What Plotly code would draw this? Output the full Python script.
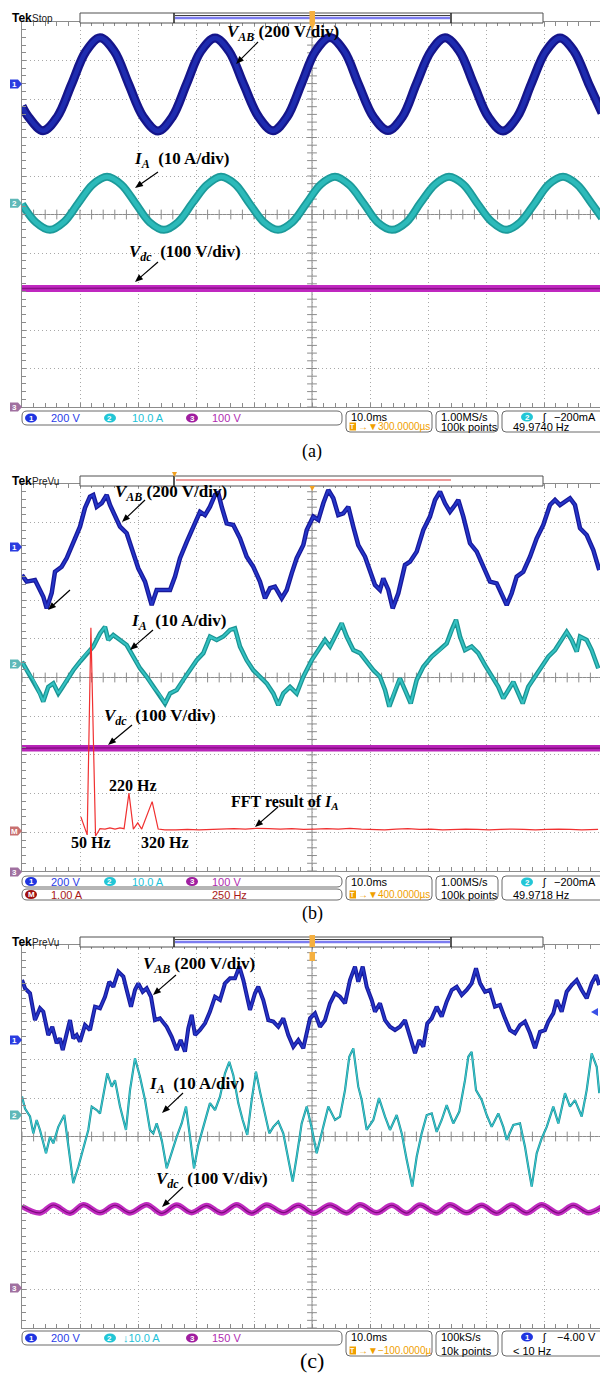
import math
import numpy as np
import plotly.graph_objects as go

W, H = 600, 1374

# ------------------------------------------------------------------ data
# Panel (a)  time in ms, V_AB in V (200 V/div), I_A in A (10 A/div), Vdc in V (100 V/div)
A_VAB_T = [0, 1.14, 3.62, 6.10, 8.54, 11.0, 13.45, 15.9, 18.37, 20.9, 23.45, 25.9, 28.37, 30.8, 33.28, 35.7,
           38.2, 40.8, 43.28, 45.7, 48.2, 50.6, 53.10, 55.6, 58.0, 60.6, 63.10, 65.6, 68.0, 70.5, 72.93, 75.4,
           77.9, 80.4, 82.93, 85.4, 87.8, 90.3, 92.76, 95.2, 97.7, 100]
A_VAB_V = [-115, -172, -243, -170, -2, 168, 240, 171, 1, -170, -244, -172, 0, 169, 239, 170,
           -1, -171, -243, -171, 2, 170, 241, 169, 0, -172, -242, -170, 1, 170, 240, 171,
           -2, -171, -244, -170, 0, 169, 239, 170, 1, -150]
A_IA_T = [0, 2.37, 4.83, 7.29, 9.74, 12.2, 14.66, 17.1, 19.57, 22.0, 24.48, 26.9, 29.4, 31.9, 34.31, 36.8,
          39.2, 41.7, 44.14, 46.6, 49.05, 51.5, 53.97, 56.4, 58.9, 61.3, 63.79, 66.3, 68.7, 71.2, 73.62, 76.1,
          78.5, 81.0, 83.45, 85.9, 88.4, 90.8, 93.28, 95.7, 98.2, 100]
A_IA_V = [-0.2, -4.9, -6.9, -4.8, 0.1, 4.9, 6.9, 4.9, 0, -4.9, -6.9, -4.9, 0.1, 4.8, 6.9, 4.9,
          0, -4.9, -6.9, -4.9, 0, 4.9, 6.9, 4.8, 0, -4.9, -6.9, -4.9, 0.1, 4.9, 6.9, 4.9,
          0, -4.8, -6.9, -4.9, 0, 4.9, 6.9, 4.9, 0, -3.8]
A_VDC_T = [0, 25, 50, 75, 100]
A_VDC_V = [308, 309, 308, 307, 308]

# Panel (b)
B_VAB_T = [0, 0.81, 2.24, 2.81, 3.67, 4.26, 5.12, 5.69, 6.84, 7.71, 8.84, 10.0, 10.86, 11.72, 12.29, 12.88,
           13.74, 14.60, 15.17, 16.03, 16.90, 18.05, 19.19, 20.05, 21.21, 22.36, 23.22, 24.36, 25.52, 26.38,
           27.24, 28.40, 29.53, 30.69, 31.55, 32.41, 33.28, 33.84, 34.43, 35.29, 36.43, 37.59, 38.74, 39.88,
           41.03, 41.90, 42.76, 43.62, 44.78, 45.64, 46.50, 47.36, 48.50, 49.09, 50.22, 51.09, 51.95, 52.81,
           53.67, 54.53, 55.40, 56.26, 57.12, 57.98, 59.14, 60.0, 60.86, 61.72, 62.29, 63.16, 63.91, 64.88,
           66.03, 66.90, 68.05, 69.19, 70.34, 71.21, 72.07, 72.93, 73.79, 74.66, 75.22, 76.09, 77.24, 78.40,
           79.53, 80.69, 81.84, 82.71, 83.57, 84.43, 85.29, 86.43, 87.59, 88.74, 89.88, 91.03, 91.90, 92.76,
           93.62, 94.48, 95.34, 96.21, 97.36, 98.50, 99.53]
B_VAB_V = [-145, -179, -171, -205, -257, -317, -238, -128, -102, -57, 27, 105, 202, 260, 269, 208,
           227, 269, 217, 157, 105, 71, -33, -110, -179, -300, -222, -222, -222, -153,
           -58, 27, 105, 182, 165, 208, 269, 278, 208, 122, 114, 45, -50, -102,
           -179, -265, -213, -205, -265, -222, -136, -58, 10, 88, 157, 140, 226, 295,
           252, 165, 174, 208, 105, 10, -50, -119, -196, -222, -162, -222, -317, -239,
           -93, -76, -24, 88, 157, 243, 286, 226, 182, 217, 243, 157, 19, -24,
           -102, -179, -188, -239, -300, -239, -153, -128, -50, 45, 114, 217, 243, 217,
           234, 252, 217, 97, 62, -16, -119]
B_IA_T = [0, 0.81, 1.95, 3.10, 3.67, 4.53, 5.40, 6.26, 6.84, 7.71, 8.84, 10.0, 11.16, 12.29, 13.45, 14.31,
          14.88, 15.74, 16.90, 18.05, 19.19, 20.34, 21.50, 22.64, 23.79, 24.66, 25.52, 26.67, 27.81, 28.97,
          30.12, 31.26, 32.41, 33.57, 34.71, 35.86, 36.72, 37.59, 38.74, 39.88, 41.03, 42.19, 43.33, 44.19,
          45.05, 46.21, 47.36, 48.50, 49.95, 51.09, 52.24, 53.10, 53.97, 55.12, 55.98, 57.12, 58.28, 59.43,
          60.57, 61.72, 62.59, 63.33, 64.31, 65.17, 66.03, 67.02, 68.05, 69.19, 70.64, 72.07, 73.22, 74.09,
          74.83, 75.52, 76.38, 77.53, 78.67, 79.83, 80.98, 82.12, 82.98, 83.84, 84.71, 85.57, 86.33, 87.29,
          88.45, 89.60, 90.74, 91.90, 93.05, 93.91, 94.78, 95.64, 96.21, 97.36, 98.22, 99.36]
B_IA_V = [0.6, -1.6, -4.1, -7.6, -9.7, -5.9, -5.0, -7.6, -6.3, -4.1, -1.6, 0.6, 2.8, 4.5, 7.9, 9.6,
          6.2, 7.5, 6.2, 4.9, 1.9, -1.1, -3.3, -5.9, -8.0, -10.2, -7.6, -6.7, -4.1, -1.6,
          1.0, 2.8, 7.1, 6.2, 7.1, 8.8, 9.2, 4.5, 1.0, -1.6, -3.3, -5.0, -7.6, -10.6,
          -7.6, -5.9, -7.6, -3.3, 1.0, 3.6, 6.2, 4.5, 7.1, 10.5, 7.1, 3.6, 2.8, 0.6,
          -1.6, -3.3, -6.7, -11.0, -6.7, -3.7, -6.7, -10.2, -4.1, -0.7, 1.9, 3.6, 5.3, 8.8,
          11.4, 7.1, 3.6, 4.5, 2.8, -0.3, -3.3, -5.9, -8.9, -6.7, -4.6, -7.6, -10.2, -5.9,
          -3.3, -0.7, 1.9, 3.6, 6.2, 8.3, 6.2, 3.2, 7.1, 6.2, 3.6, -1.1]
B_VDC_T = [0, 25, 50, 75, 100]
B_VDC_V = [320, 321, 320, 319, 320]
# FFT of I_A (math channel M: 1.00 A/div, 250 Hz/div)
B_FFT_F = [11, 24, 38, 54, 74, 82, 93, 115, 136, 158, 179, 197, 218, 237, 256, 273, 318, 344, 373,
           420, 470, 520, 570, 620, 670, 720, 770, 820, 870, 920, 970, 1020, 1070, 1120, 1170, 1220,
           1270, 1320, 1370, 1420, 1470, 1520, 1570, 1620, 1670, 1720, 1770, 1820, 1870, 1920, 1970,
           2020, 2070, 2120, 2170, 2240]
B_FFT_A = [0.36, 0.13, -0.10, 5.25, -0.13, -0.05, 0.06, 0.05, 0.08, 0.05, 0.08, 0.06, 0.98, 0.05, 0.21,
           0.05, 0.76, 0.05, 0.03, 0.03, 0.04, 0.03, 0.04, 0.05, 0.06, 0.05, 0.07, 0.06, 0.05, 0.06,
           0.04, 0.05, 0.06, 0.05, 0.07, 0.05, 0.04, 0.03, 0.05, 0.06, 0.04, 0.05, 0.03, 0.04, 0.05,
           0.04, 0.03, 0.04, 0.05, 0.04, 0.03, 0.04, 0.05, 0.04, 0.03, 0.04]

# Panel (c)
C_VAB_T = [0, 0.52, 1.38, 2.24, 3.10, 3.67, 4.53, 5.22, 5.98, 6.55, 7.02, 7.71, 8.28, 8.84, 9.43, 10.0,
           10.86, 11.72, 12.59, 13.45, 14.31, 15.05, 15.74, 16.60, 17.47, 18.05, 18.79, 19.48, 20.05,
           20.81, 21.50, 22.24, 22.93, 23.79, 24.95, 25.81, 26.67, 27.36, 28.10, 28.67, 29.26, 29.83,
           30.69, 31.55, 32.41, 33.28, 34.14, 35.0, 35.86, 36.72, 37.47, 38.16, 39.31, 40.17, 40.74,
           41.60, 42.47, 43.33, 44.19, 45.05, 45.91, 46.78, 47.64, 48.50, 49.66, 50.52, 51.38, 52.24,
           53.10, 53.97, 54.83, 55.69, 56.55, 57.41, 57.98, 58.74, 59.43, 60.29, 60.86, 61.72, 62.59,
           63.45, 64.31, 65.17, 66.03, 66.90, 67.76, 68.50, 69.19, 69.88, 70.64, 71.50, 72.36, 73.22,
           74.09, 74.95, 75.81, 76.67, 77.53, 78.28, 78.97, 79.83, 80.69, 81.55, 82.41, 83.28, 84.14,
           85.0, 85.86, 86.72, 87.59, 88.45, 89.31, 90.17, 90.74, 91.60, 92.19, 93.05, 93.91, 94.78,
           95.64, 96.50, 97.36, 98.22, 98.97, 99.53]
C_VAB_V = [313, 270, 244, 104, 166, 148, 26, 69, -17, 9, -52, 35, 104, 9, 26, -9,
           78, 52, 174, 166, 226, 304, 278, 357, 331, 261, 174, 261, 296,
           252, 270, 226, 104, 113, 69, 17, -52, 0, -61, 61, 131, 26,
           52, 87, 148, 226, 209, 296, 322, 322, 383, 313, 157, 244, 278,
           209, 104, 96, 69, 113, 26, -35, 0, -43, 113, 139, 69, 104,
           192, 244, 226, 192, 313, 383, 304, 383, 278, 209, 148, 192, 104,
           69, 52, 69, 104, 17, -69, 0, -35, 87, 113, 174, 122, 200,
           261, 278, 235, 261, 296, 374, 296, 252, 261, 174, 183, 113, 52,
           35, 78, 96, 35, -43, 43, 52, 96, 139, 209, 148, 252, 287,
           313, 261, 218, 296, 339, 287]
C_IA_T = [0, 0.52, 1.38, 1.95, 2.53, 3.10, 4.14, 4.83, 5.40, 6.26, 7.29, 7.98, 8.84, 9.71, 10.57, 11.43,
          12.02, 12.88, 13.45, 14.31, 14.71, 15.47, 16.03, 16.90, 17.93, 18.62, 19.48, 20.34, 21.21, 22.07,
          22.64, 23.22, 24.09, 24.95, 25.81, 26.67, 27.53, 28.28, 28.97, 29.66, 30.40, 31.26, 32.41, 33.28,
          34.14, 35.0, 35.74, 36.43, 37.29, 38.05, 38.84, 39.60, 40.34, 41.03, 41.90, 42.64, 43.33, 44.19,
          45.05, 45.91, 46.67, 47.36, 48.22, 49.09, 49.95, 50.81, 51.67, 52.81, 53.97, 54.83, 55.69, 56.43,
          57.12, 57.98, 58.57, 59.43, 60.57, 61.55, 62.59, 63.45, 64.60, 65.47, 66.33, 67.29, 68.05, 68.91,
          69.78, 70.64, 71.50, 72.36, 73.22, 74.36, 75.40, 76.38, 76.95, 77.53, 78.28, 79.26, 80.12, 80.98,
          82.12, 82.98, 83.57, 84.71, 85.86, 86.72, 87.29, 87.88, 88.74, 89.60, 90.47, 91.60, 92.47, 93.62,
          94.48, 95.34, 96.50, 97.36, 98.22, 99.09, 99.53]
C_IA_V = [4.8, 1.7, -0.4, -4.8, -1.3, -3.9, -10.0, -5.7, -7.4, -3.1, 0, -8.3, -17.8, -13.5, -8.3, -3.9,
          2.2, 1.3, 0.4, 7.4, 10.9, 7.4, 9.1, 2.2, -3.9, 6.5, 14.8, 10.0, 3.9, -3.9,
          -4.8, -2.2, -6.5, -13.9, -9.6, -5.7, -2.2, 2.2, -5.7, -13.9, -7.8, -3.1, 3.1, 1.3,
          4.8, 10.9, 13.9, 10.4, 3.1, -1.3, -5.2, 3.9, 11.3, 6.1, 0.4, -4.8, -3.1, -1.7,
          -4.8, -11.7, -17.4, -10.9, -2.2, 2.2, -3.4, -10.0, -4.8, 2.2, -1.3, -0.4, 6.5, 15.2,
          17.4, 7.4, 3.9, -3.9, -1.3, 4.4, -0.4, -3.9, 0, -4.8, -11.7, -18.7, -10.9, -4.8,
          0, 0.4, -4.4, -1.3, 2.6, -2.2, 0.9, 9.1, 15.2, 16.5, 6.5, 3.9, 0, -3.1,
          0.4, -3.1, -6.5, -2.6, -2.2, -8.3, -13.5, -18.7, -10.0, -6.1, -3.1, 2.2, -2.2, 5.7,
          2.2, 3.9, -0.4, 6.5, 16.1, 12.6, 5.7]
C_VDC_T = [0, 3.10, 5.40, 8.28, 10.57, 13.45, 16.03, 18.62, 21.50, 24.09, 26.67, 29.26, 31.84, 34.43,
           37.02, 39.60, 42.19, 45.05, 47.64, 50.22, 53.10, 55.98, 58.28, 61.16, 63.74, 66.33, 68.62,
           71.50, 73.79, 76.67, 79.26, 81.84, 84.43, 87.02, 89.60, 92.47, 95.05, 97.64, 100]
C_VDC_V = [320, 294, 325, 293, 326, 295, 324, 294, 326, 292, 325, 295, 323, 294, 326, 293, 325, 295,
           324, 293, 325, 294, 326, 295, 324, 293, 325, 294, 326, 295, 324, 293, 325, 294, 326, 293,
           324, 295, 318]

# ------------------------------------------------------------------ geometry / style
GRID_L = 22          # left edge of graticule (px)
PX_PER_MS = 5.8      # 10 ms/div, 58 px/div
X_MAX = (W - GRID_L) / PX_PER_MS
F_LEFT = -243.0      # FFT frequency at left graticule edge (Hz)
F_SPAN = 2500.0      # 250 Hz/div * 10 div

PANELS = {
    'a': dict(top=22, bottom=407, n=''),
    'b': dict(top=484, bottom=871, n='2'),
    'c': dict(top=945, bottom=1328, n='3'),
}
MARKS = {
    'a': {'1': 84, '2': 203.3, '3': 407},
    'b': {'1': 547, '2': 664, 'M': 831, '3': 872},
    'c': {'1': 1040, '2': 1115, '3': 1288},
}
SCALE = {'a': {'1': 200, '2': 10, '3': 100, 'M': 1},
         'b': {'1': 200, '2': 10, '3': 100, 'M': 1},
         'c': {'1': 200, '2': 10, '3': 150, 'M': 1}}

SERIF = "Liberation Serif"
SANS = "Liberation Sans"
GRIDC = '#a8a8a8'
AXC = '#8c8c8c'


def X(px):
    return px / W


def Y(py):
    return 1 - py / H


def offset_div(p, ch):
    g = PANELS[p]
    c = (g['top'] + g['bottom']) / 2
    d = (g['bottom'] - g['top']) / 10
    return (c - MARKS[p][ch]) / d


def to_div(p, ch, vals):
    o = offset_div(p, ch)
    s = SCALE[p][ch]
    return [o + v / s for v in vals]


fig = go.Figure()
shapes = []
annos = []


def band(p, ch, ts, vs, outer, ow, inner, iw, shape='linear', xaxis=None):
    n = min(len(ts), len(vs))
    ts, vs = ts[:n], vs[:n]
    ya = 'y' + PANELS[p]['n']
    xa = xaxis or ('x' + PANELS[p]['n'])
    yy = to_div(p, ch, vs)
    fig.add_trace(go.Scatter(x=ts, y=yy, mode='lines', xaxis=xa, yaxis=ya, hoverinfo='skip',
                             line=dict(color=outer, width=ow, shape=shape)))
    if iw:
        fig.add_trace(go.Scatter(x=ts, y=yy, mode='lines', xaxis=xa, yaxis=ya, hoverinfo='skip',
                                 line=dict(color=inner, width=iw, shape=shape)))


layout_axes = {}
for p, g in PANELS.items():
    n = g['n']
    ydom = [Y(g['bottom']), Y(g['top'])]
    layout_axes['xaxis' + n] = dict(domain=[X(GRID_L), 1], range=[0, X_MAX], anchor='y' + n,
                                    showgrid=True, gridcolor=GRIDC, griddash='1px,3px', gridwidth=1,
                                    dtick=10, tick0=0, showticklabels=False, zeroline=False,
                                    showline=True, linecolor=AXC, linewidth=1, mirror='ticks',
                                    ticks='inside', ticklen=4, tickcolor=AXC,
                                    minor=dict(dtick=2, ticks='inside', ticklen=4, tickcolor=AXC,
                                               showgrid=False),
                                    fixedrange=True)
    layout_axes['yaxis' + n] = dict(domain=ydom, range=[-5, 5], anchor='x' + n,
                                    showgrid=True, gridcolor=GRIDC, griddash='1px,3px', gridwidth=1,
                                    dtick=1, tick0=0, showticklabels=False, zeroline=False,
                                    showline=True, linecolor=AXC, linewidth=1, mirror=False,
                                    ticks='inside', ticklen=4, tickcolor=AXC,
                                    minor=dict(dtick=0.2, ticks='inside', ticklen=4, tickcolor=AXC,
                                               showgrid=False),
                                    fixedrange=True)
    # centre cross-hair
    shapes.append(dict(type='line', xref='x' + n, yref='y' + n + ' domain', x0=50, x1=50, y0=0, y1=1,
                       line=dict(color=AXC, width=1), layer='below'))
    shapes.append(dict(type='line', xref='x' + n + ' domain', yref='y' + n, x0=0, x1=1, y0=0, y1=0,
                       line=dict(color=AXC, width=1), layer='below'))
    tx = np.arange(0, 100, 2.0)
    fig.add_trace(go.Scatter(x=tx, y=np.zeros_like(tx), mode='markers', xaxis='x' + n, yaxis='y' + n,
                             hoverinfo='skip',
                             marker=dict(symbol='line-ns', size=7, line=dict(width=1, color=AXC))))
    ty = np.arange(-5, 5.01, 0.2)
    fig.add_trace(go.Scatter(x=np.full_like(ty, 50), y=ty, mode='markers', xaxis='x' + n, yaxis='y' + n,
                             hoverinfo='skip',
                             marker=dict(symbol='line-ew', size=7, line=dict(width=1, color=AXC))))

layout_axes['xaxis4'] = dict(domain=[X(GRID_L), 1], range=[F_LEFT, F_LEFT + F_SPAN * X_MAX / 100],
                             overlaying='x2', anchor='y2', visible=False, fixedrange=True)

# ------------------------------------------------------------------ traces
band('a', '1', A_VAB_T, A_VAB_V, '#15158a', 9, '#1e2cb0', 4.5, shape='spline')
band('a', '2', A_IA_T, A_IA_V, '#1c9a9a', 8, '#2cbaba', 4.5, shape='spline')
band('a', '3', A_VDC_T, A_VDC_V, '#c028c0', 7, '#8a128a', 1.5)

band('b', '1', B_VAB_T, B_VAB_V, '#18189a', 4.5, '#2436c8', 2)
band('b', '2', B_IA_T, B_IA_V, '#1a9494', 4.5, '#34c2c2', 2)
band('b', '3', B_VDC_T, B_VDC_V, '#b824b8', 6.5, '#7a0a7a', 1.2)
band('b', 'M', B_FFT_F, B_FFT_A, '#f03030', 1.2, None, 0, xaxis='x4')

band('c', '1', C_VAB_T, C_VAB_V, '#18189a', 4, '#2436c8', 1.8)
band('c', '2', C_IA_T, C_IA_V, '#1a8f96', 2.2, '#40d0d8', 0.9)
band('c', '3', C_VDC_T, C_VDC_V, '#c02cc0', 5.5, '#7a0a7a', 1.2, shape='spline')


# ------------------------------------------------------------------ decorations helpers
def rect(x0, y0, x1, y1, line='#505050', fill='white', lw=1):
    shapes.append(dict(type='rect', xref='paper', yref='paper', x0=X(x0), x1=X(x1), y0=Y(y1), y1=Y(y0),
                       line=dict(color=line, width=lw), fillcolor=fill, layer='above'))


def seg(x0, y0, x1, y1, color, w=1):
    shapes.append(dict(type='line', xref='paper', yref='paper', x0=X(x0), y0=Y(y0), x1=X(x1), y1=Y(y1),
                       line=dict(color=color, width=w), layer='above'))


def poly(pts, fill):
    d = 'M ' + ' L '.join(f'{X(a)},{Y(b)}' for a, b in pts) + ' Z'
    shapes.append(dict(type='path', xref='paper', yref='paper', path=d, line=dict(width=0),
                       fillcolor=fill, layer='above'))


def rrect(x0, y0, x1, y1, r=4, color='#6a6a6a'):
    pts = (f"M {X(x0 + r)},{Y(y0)} L {X(x1 - r)},{Y(y0)} Q {X(x1)},{Y(y0)} {X(x1)},{Y(y0 + r)} "
           f"L {X(x1)},{Y(y1 - r)} Q {X(x1)},{Y(y1)} {X(x1 - r)},{Y(y1)} L {X(x0 + r)},{Y(y1)} "
           f"Q {X(x0)},{Y(y1)} {X(x0)},{Y(y1 - r)} L {X(x0)},{Y(y0 + r)} Q {X(x0)},{Y(y0)} {X(x0 + r)},{Y(y0)} Z")
    shapes.append(dict(type='path', xref='paper', yref='paper', path=pts,
                       line=dict(color=color, width=1), fillcolor='rgba(0,0,0,0)', layer='above'))


def txt(x, y, s, color='black', size=11, family=SANS, xanchor='left', yanchor='middle'):
    annos.append(dict(xref='paper', yref='paper', x=X(x), y=Y(y), text=s, showarrow=False,
                      xanchor=xanchor, yanchor=yanchor, font=dict(family=family, size=size, color=color),
                      borderpad=0))


def badge(cx, cy, label, fill, w=12, h=9):
    shapes.append(dict(type='circle', xref='paper', yref='paper', x0=X(cx - w / 2), x1=X(cx + w / 2),
                       y0=Y(cy + h / 2), y1=Y(cy - h / 2), line=dict(width=0), fillcolor=fill, layer='above'))
    txt(cx, cy, '<b>%s</b>' % label, 'white', 8, SANS, 'center')


def arrow(tx, ty, hx, hy, hl=8, hw=3.2):
    dx, dy = hx - tx, hy - ty
    L = math.hypot(dx, dy)
    ux, uy = dx / L, dy / L
    bx, by = hx - ux * hl, hy - uy * hl
    seg(tx, ty, bx + ux * 1, by + uy * 1, 'black', 1.2)
    poly([(hx, hy), (bx - uy * hw, by + ux * hw), (bx + uy * hw, by - ux * hw)], 'black')


def label(x, y, s, size=17):
    txt(x, y, '<b>%s</b>' % s, 'black', size, SERIF, 'left')


def chmark(py, s, col):
    poly([(10, py - 4.5), (18, py - 4.5), (22, py), (18, py + 4.5), (10, py + 4.5)], col)
    txt(14.5, py, '<b>%s</b>' % s, 'white', 8, SANS, 'center')


def it(s, size):
    return '<span style="font-style:italic;font-size:%dpx">%s</span>' % (size, s)


def sym(main, sub, size=17):
    return it(main, size) + '<sub>' + it(sub, round(size * 0.7)) + '</sub>'


VAB = sym('V', 'AB') + ' (200 V/div)'
IA = sym('I', 'A') + '  (10 A/div)'
VDC = sym('V', 'dc') + '  (100 V/div)'


# ---------------- top bars
def tekbar(ybar, mode, state):
    y0, y1 = ybar, ybar + 10
    txt(11, y0 + 5, '<b>Tek</b>', 'black', 12)
    txt(31, y0 + 5, state, '#202020', 10)
    rect(80, y0, 543, y1, '#505050', 'white', 1)
    seg(174, y0, 174, y1, '#202020', 1.5)
    if mode == 'blue':
        seg(451, y0, 451, y1, '#202020', 1.5)
        seg(175, y0 + 2.5, 450, y0 + 2.5, '#404040', 1)
        seg(175, y0 + 5, 450, y0 + 5, '#7c7cf0', 2.5)
    else:
        seg(176, y0 + 4, 451, y0 + 4, '#e87878', 1.5)


tekbar(13, 'blue', 'Stop')
rect(309.5, 11, 315, 24, '#f0a020', '#f5b040', 0)
poly([(309.5, 24), (315, 24), (312.2, 30)], '#f5b040')
tekbar(476, 'red', 'PreVu')
poly([(172, 472), (177, 472), (174.5, 477)], '#f0a020')
poly([(309.5, 486), (315, 486), (312.2, 491)], '#f0a020')
tekbar(937, 'blue', 'PreVu')
rect(309.5, 935, 315, 947, '#f0a020', '#f5b040', 0)
rect(309.5, 952, 315, 961, '#f0a020', '#f5b040', 0)

# ---------------- channel markers
chmark(84, '1', '#2a3ce0')
chmark(203.3, '2', '#5fb8b8')
chmark(407, '3', '#a070a0')
chmark(547, '1', '#2a3ce0')
chmark(664, '2', '#5fb8b8')
chmark(831, 'M', '#c87070')
chmark(872, '3', '#a070a0')
chmark(1040, '1', '#2a3ce0')
chmark(1115, '2', '#5fb8b8')
chmark(1288, '3', '#a070a0')
poly([(591, 1012), (598, 1008), (598, 1016)], '#3a50e6')

# ---------------- waveform labels and arrows
label(226, 33, VAB)
arrow(258, 42, 236, 64)
label(133, 160, IA)
arrow(158, 172, 135, 188)
label(128, 253, VDC)
arrow(158, 262, 135, 282)

label(114, 493, VAB)
arrow(145, 500, 122, 522)
arrow(70, 590, 48, 610)
label(130, 622, IA)
arrow(153, 630, 130, 650)
label(103, 717, VDC)
arrow(132, 725, 108, 745)
label(108, 785, '220 Hz', 16)
label(70, 842, '50 Hz', 16)
label(140, 842, '320 Hz', 16)
label(230, 802, 'FFT result of ' + sym('I', 'A', 16), 16)
arrow(278, 807, 255, 827)

label(142, 965, VAB)
arrow(176, 975, 153, 995)
label(148, 1085, IA)
arrow(183, 1093, 162, 1113)
label(155, 1180, VDC)
arrow(183, 1187, 162, 1207)


# ---------------- status bars
def right_boxes(y0, y1, t2, rate1, rate2, trig_ch, trig_col, trig_lvl, freq):
    r1, r2 = y0 + 6, y1 - 5.5
    rrect(346, y0, 432, y1, 4)
    txt(350, r1, '10.0ms', 'black')
    rect(349.5, r2 - 4, 356, r2 + 4, '#f0a000', '#f0a000', 0)
    txt(352.7, r2, '<b>T</b>', 'white', 7, SANS, 'center')
    txt(356.5, r2, t2, '#f0a000', 10)
    rrect(436, y0, 498, y1, 4)
    txt(440, r1, rate1, 'black')
    txt(440, r2, rate2, 'black')
    rrect(502, y0, 608, y1, 4)
    badge(527, r1, trig_ch, trig_col)
    txt(544, r1, 'ʃ', 'black', 11, SANS, 'center')
    txt(597, r1, trig_lvl, 'black', 11, SANS, 'right')
    txt(512, r2, freq, 'black')


def chan_row(y0, y1, items):
    rrect(22, y0, 342, y1, 5)
    cy = (y0 + y1) / 2
    for bx, lab, bcol, tx, s, tcol in items:
        badge(bx, cy, lab, bcol)
        txt(tx, cy, s, tcol)


BLUE, CYAN, PURP = '#2a3ce8', '#22c2d8', '#b02cb0'
# (a)
chan_row(411, 425, [(31, '1', '#1f35e0', 50, '200 V', BLUE), (110, '2', '#22c6d6', 131, '10.0 A', CYAN),
                    (192, '3', '#a01ea0', 211, '100 V', PURP)])
right_boxes(411, 432, '→▼300.0000µs', '1.00MS/s', '100k points', '2', '#22c6d6', '−200mA', '49.9740 Hz')
txt(312, 451, '(a)', 'black', 18, SERIF, 'center')
# (b)
chan_row(876, 887, [(31, '1', '#1f35e0', 50, '200 V', BLUE), (110, '2', '#22c6d6', 131, '10.0 A', CYAN),
                    (192, '3', '#a01ea0', 211, '100 V', PURP)])
chan_row(889, 900, [(31, 'M', '#a01010', 50, '1.00 A', '#a81818')])
txt(211, 894.5, '250 Hz', '#a81818')
right_boxes(876, 900, '→▼400.0000µs', '1.00MS/s', '100k points', '2', '#22c6d6', '−200mA', '49.9718 Hz')
txt(312, 913, '(b)', 'black', 18, SERIF, 'center')
# (c)
chan_row(1331, 1345, [(31, '1', '#1f35e0', 50, '200 V', BLUE), (110, '2', '#22c6d6', 122, '↓10.0 A', CYAN),
                      (192, '3', '#a01ea0', 211, '150 V', PURP)])
right_boxes(1331, 1356, '→▼−100.0000µ', '100kS/s', '10k points', '1', '#1f35e0', '−4.00 V', '&lt; 10 Hz')
txt(312, 1360, '(c)', 'black', 22, SERIF, 'center')

fig.update_layout(width=W, height=H, margin=dict(l=0, r=0, t=0, b=0), showlegend=False,
                  paper_bgcolor='white', plot_bgcolor='white', shapes=shapes, annotations=annos,
                  **layout_axes)
fig.write_html("out.html", config={'displayModeBar': False},
               post_script="document.body.style.margin='0';document.body.style.overflow='hidden';")
